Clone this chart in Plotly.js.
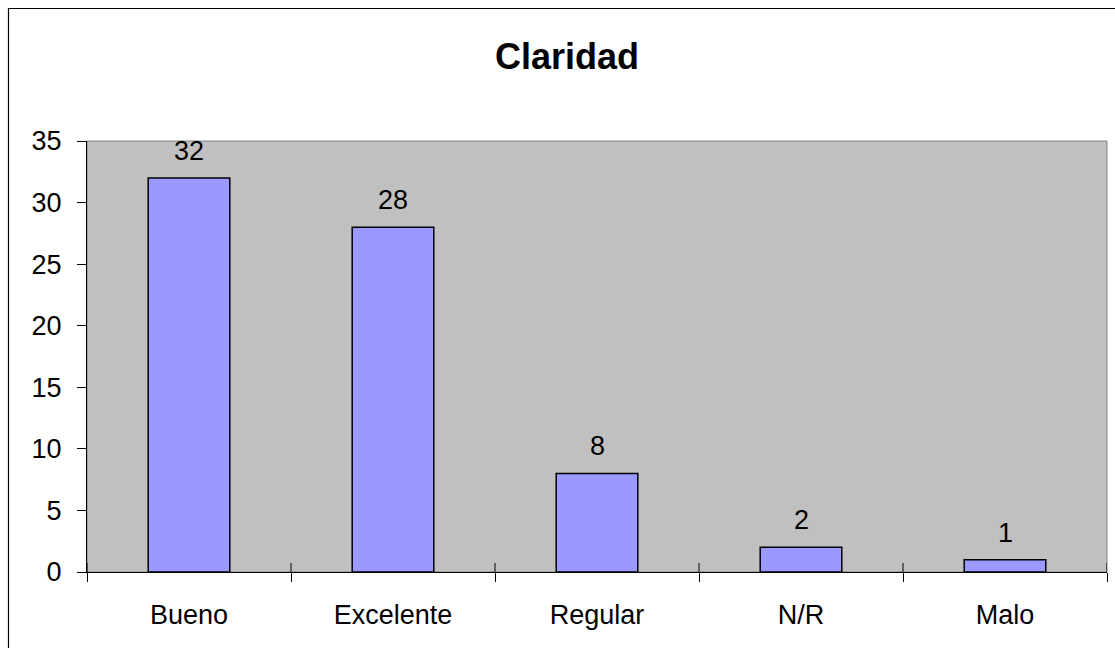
<!DOCTYPE html>
<html>
<head>
<meta charset="utf-8">
<script src="https://cdn.plot.ly/plotly-3.0.1.min.js"></script>
<style>html,body{margin:0;padding:0;background:#fff;}#chart{width:1115px;height:648px;}</style>
</head>
<body>
<div id="chart"></div>
<script>
const categories = ["Bueno", "Excelente", "Regular", "N/R", "Malo"];
const values = [32, 28, 8, 2, 1];
const yTicks = [0, 5, 10, 15, 20, 25, 30, 35];
const chartTitle = "Claridad";

const FONT = "Liberation Sans, Arial, sans-serif";

// category boundaries (upper half of the crossing tick marks)
const boundaries = categories.map((c, i) => i - 0.5).concat([categories.length - 0.5]);

const traces = [{
  type: "bar",
  x: categories,
  y: values,
  width: 0.4,
  marker: {color: "#9999FF", line: {color: "#000000", width: 1.5}},
  hoverinfo: "none"
}];

const annotations = categories.map((c, i) => ({
  x: c, y: values[i], xref: "x", yref: "y",
  text: String(values[i]), showarrow: false,
  yanchor: "bottom", yshift: 10,
  font: {family: FONT, size: 27, color: "#000"}
}));

const tickShapes = boundaries.map(b => ({
  type: "line", xref: "x", yref: "paper",
  x0: b, x1: b, y0: 0, y1: 9 / 431,
  line: {color: "#000", width: 1}, layer: "above"
}));

const layout = {
  width: 1115, height: 648,
  margin: {l: 87, r: 8, t: 141, b: 76},
  paper_bgcolor: "#ffffff",
  plot_bgcolor: "#C0C0C0",
  showlegend: false,
  title: {
    text: "<b>" + chartTitle + "</b>",
    x: 567 / 1115, xref: "container", xanchor: "center",
    y: 1 - 56 / 648, yref: "container", yanchor: "middle",
    font: {family: FONT, size: 36, color: "#000"}
  },
  xaxis: {
    type: "category",
    categoryorder: "array", categoryarray: categories,
    range: [-0.5, categories.length - 0.5],
    tickson: "boundaries",
    ticks: "outside", ticklen: 9, tickwidth: 1, tickcolor: "#000",
    showline: true, linecolor: "#000", linewidth: 1,
    showgrid: false, zeroline: false,
    ticklabelstandoff: 19,
    tickfont: {family: FONT, size: 27, color: "#000"}
  },
  yaxis: {
    range: [0, 35],
    tickvals: yTicks,
    ticks: "outside", ticklen: 9, tickwidth: 1, tickcolor: "#000",
    showline: true, linecolor: "#000", linewidth: 1,
    showgrid: false, zeroline: false,
    ticklabelstandoff: 10,
    tickfont: {family: FONT, size: 27, color: "#000"}
  },
  annotations: annotations,
  shapes: [{
    type: "rect", xref: "paper", yref: "paper",
    x0: 0, x1: 1, y0: 0, y1: 1,
    line: {color: "#808080", width: 1}, layer: "below"
  }, {
    type: "rect", xref: "paper", yref: "paper",
    x0: (8.5 - 87) / 1020, x1: 1.05,
    y0: -0.3, y1: (572 - 8.5) / 431,
    line: {color: "#000", width: 1.2}, fillcolor: "rgba(0,0,0,0)", layer: "above"
  }].concat(tickShapes)
};

Plotly.newPlot("chart", traces, layout, {displayModeBar: false, staticPlot: true});
</script>
</body>
</html>
